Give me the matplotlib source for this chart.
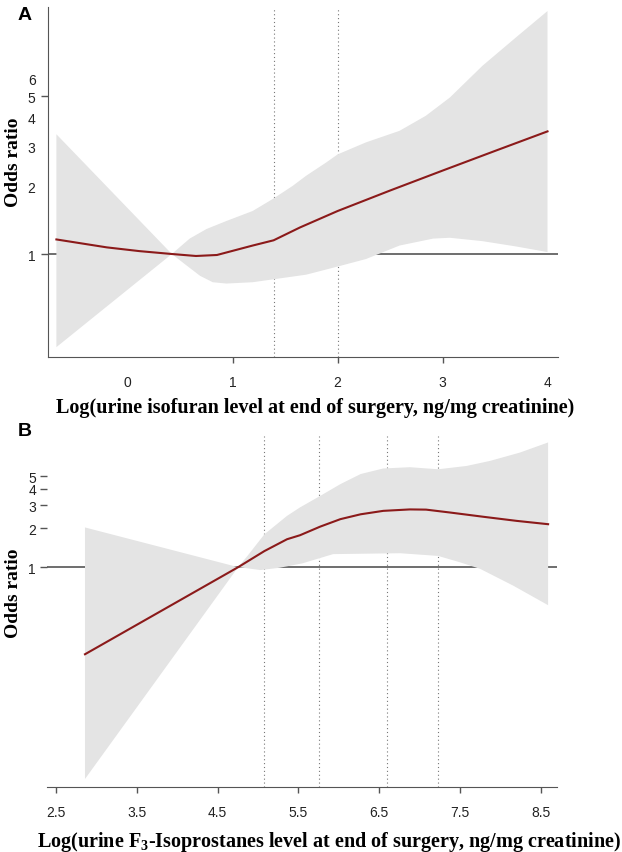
import matplotlib
matplotlib.use("Agg")
import matplotlib.pyplot as plt
from matplotlib.ticker import NullLocator

plt.rcParams['mathtext.fontset'] = 'custom'
plt.rcParams['mathtext.rm'] = 'Liberation Serif'
plt.rcParams['mathtext.bf'] = 'Liberation Serif:bold'

# ---- panel A : isofuran ----
a_x = [-0.68, -0.20, 0.11, 0.42, 0.65, 0.85, 0.99, 1.19, 1.39, 1.64, 2.0, 2.5, 3.0, 3.5, 4.0]
a_or = [1.16, 1.07, 1.03, 1.00, 0.98, 0.99, 1.03, 1.09, 1.15, 1.31, 1.55, 1.91, 2.34, 2.86, 3.49]
a_up_x = [-0.68, 0.42, 0.59, 0.75, 0.94, 1.19, 1.38, 1.57, 1.70, 1.89, 2.0, 2.27, 2.59, 2.84,
          3.07, 3.38, 3.70, 4.0]
a_up = [3.39, 1.00, 1.17, 1.29, 1.40, 1.55, 1.75, 2.00, 2.22, 2.54, 2.76, 3.12, 3.51, 4.09,
        4.93, 6.81, 9.1, 11.9]
a_lo_x = [-0.68, 0.42, 0.56, 0.69, 0.81, 0.94, 1.19, 1.45, 1.70, 2.0, 2.27, 2.59, 2.91, 3.07,
          3.38, 3.70, 4.0]
a_lo = [0.387, 1.00, 0.89, 0.80, 0.75, 0.74, 0.75, 0.78, 0.81, 0.88, 0.95, 1.09, 1.17, 1.18,
        1.14, 1.08, 1.02]
a_cuts = [1.39, 2.0]
a_xticks = [0, 1, 2, 3, 4]
a_yticks = [1, 2, 3, 4, 5, 6]

# ---- panel B : F3-isoprostanes ----
b_x = [2.86, 4.755, 5.08, 5.36, 5.52, 5.77, 6.02, 6.27, 6.55, 6.88, 7.08, 7.38, 7.79, 8.20, 8.59]
b_or = [0.214, 1.00, 1.33, 1.64, 1.76, 2.05, 2.34, 2.55, 2.71, 2.78, 2.77, 2.63, 2.44, 2.27, 2.14]
b_up_x = [2.86, 4.755, 4.87, 5.08, 5.36, 5.52, 5.77, 6.02, 6.27, 6.55, 6.88, 7.23, 7.58, 7.87,
          8.24, 8.59]
b_up = [2.02, 1.00, 1.22, 1.79, 2.48, 2.88, 3.53, 4.35, 5.2, 5.74, 5.87, 5.66, 6.0, 6.56,
        7.6, 9.1]
b_lo_x = [2.86, 4.755, 4.87, 5.03, 5.27, 5.55, 5.93, 6.76, 7.23, 7.5, 7.75, 8.16, 8.59]
b_lo = [0.0235, 1.00, 0.98, 0.95, 0.99, 1.07, 1.26, 1.28, 1.22, 1.09, 0.97, 0.72, 0.51]
b_cuts = [5.08, 5.76, 6.6, 7.23]
b_xticks = [2.5, 3.5, 4.5, 5.5, 6.5, 7.5, 8.5]
b_yticks = [1, 2, 3, 4, 5]

W, H = 622, 853
LINE = '#8B1A1A'
BAND = '#e4e4e4'
GREY = '#555555'
SANS = 'Liberation Sans'
SERIF = 'Liberation Serif'

fig = plt.figure(figsize=(W / 100, H / 100), dpi=100)


def px_axes(l, t, r, b):
    return fig.add_axes([l / W, 1 - b / H, (r - l) / W, (b - t) / H])


def panel(ax, x, y, ux, uy, lx, ly, cuts):
    ax.set_yscale('log')
    ax.axhline(1, color=GREY, lw=1.2, zorder=1)
    for c in cuts:
        ax.axvline(c, color='#777777', lw=0.8, ls=(0, (1, 2.5)), zorder=1)
    ax.fill(list(ux) + list(lx)[::-1], list(uy) + list(ly)[::-1],
            color=BAND, lw=0, zorder=2)
    ax.plot(x, y, color=LINE, lw=1.5, zorder=3)
    ax.yaxis.set_minor_locator(NullLocator())
    ax.xaxis.set_minor_locator(NullLocator())
    for s in ['top', 'right']:
        ax.spines[s].set_visible(False)
    ax.spines['bottom'].set_color(GREY)
    ax.spines['left'].set_color(GREY)
    ax.tick_params(colors=GREY, labelcolor='#222222', labelsize=10, width=1)


# panel A
axA = px_axes(48, 8, 558, 358)
panel(axA, a_x, a_or, a_up_x, a_up, a_lo_x, a_lo, a_cuts)
axA.set_xlim(-0.76, 4.1)
axA.set_ylim(0.35, 12.4)
axA.set_xticks(a_xticks, [str(t) for t in a_xticks], family=SANS)
axA.set_yticks(a_yticks, [str(t) for t in a_yticks], family=SANS)
axA.tick_params(axis='x', length=4, pad=9)
axA.tick_params(axis='y', length=5, pad=4)
for t, v in zip(axA.xaxis.get_major_ticks(), a_xticks):
    if v in (0, 4):
        t.tick1line.set_visible(False)
for t, v in zip(axA.yaxis.get_major_ticks(), a_yticks):
    if v not in (1, 5):
        t.tick1line.set_visible(False)
axA.set_ylabel('Odds ratio', family=SERIF, weight='bold', fontsize=14)
axA.yaxis.set_label_coords(-0.051, 0.56)
axA.set_xlabel('Log(urine isofuran level at end of surgery, ng/mg creatinine)',
               family=SERIF, weight='bold', fontsize=14.5)
axA.xaxis.set_label_coords(0.523, -0.115)
fig.text(18 / W, 1 - 16 / H, 'A', family=SANS, weight='bold', fontsize=14,
         va='center', ha='left')

# panel B
axB = px_axes(47, 437, 557, 788)
panel(axB, b_x, b_or, b_up_x, b_up, b_lo_x, b_lo, b_cuts)
axB.set_xlim(2.39, 8.7)
axB.set_ylim(0.0204, 10.2)
axB.spines['left'].set_visible(False)
axB.set_xticks(b_xticks, [str(t) for t in b_xticks], family=SANS)
axB.set_yticks(b_yticks, [str(t) for t in b_yticks], family=SANS)
axB.tick_params(axis='x', length=4, pad=9)
axB.tick_params(axis='y', length=5, pad=3)
axB.set_ylabel('Odds ratio', family=SERIF, weight='bold', fontsize=14)
axB.yaxis.set_label_coords(-0.049, 0.556)
axB.set_xlabel(r'Log(urine F$_\mathbf{3}$-Isoprostanes level at end of surgery, ng/mg creatinine)',
               family=SERIF, weight='bold', fontsize=14.5)
axB.xaxis.set_label_coords(0.553, -0.12)
fig.text(18 / W, 1 - 432 / H, 'B', family=SANS, weight='bold', fontsize=14,
         va='center', ha='left')

fig.savefig('out.png', dpi=100)
